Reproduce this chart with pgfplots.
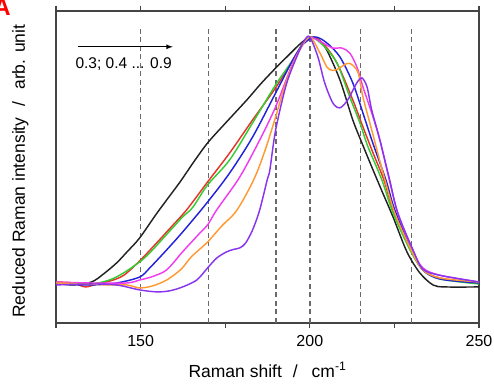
\documentclass[border=0pt]{standalone}
\usepackage{pgfplots}
\pgfplotsset{compat=1.18}
\usepackage{fontspec}
\setmainfont{Liberation Sans}
\definecolor{cblack}{HTML}{222222}
\definecolor{cred}{HTML}{E8332A}
\definecolor{cgreen}{HTML}{33CC33}
\definecolor{cblue}{HTML}{2222DD}
\definecolor{cmag}{HTML}{F03CF0}
\definecolor{corange}{HTML}{FF9933}
\definecolor{cpurple}{HTML}{8833EE}
\definecolor{axgray}{HTML}{444444}
\definecolor{dashgray}{HTML}{6A6A6A}
\begin{document}
\begin{tikzpicture}[x=1pt,y=1pt]
\useasboundingbox (0,0) rectangle (494,387);
\node[anchor=base east,inner sep=0,text=red,font=\fontsize{24}{24}\selectfont\bfseries] at (11,371) {A};
\begin{axis}[
  at={(56pt,64pt)}, anchor=south west,
  width=423pt, height=312pt, scale only axis,
  xmin=125, xmax=250, ymin=-0.158, ymax=1.105,
  xtick={150,200,250}, minor xtick={125,175,225},
  ytick=\empty,
  tick align=outside,
  major tick length=5pt, minor tick length=5pt,
  every tick/.style={axgray, line width=1.3pt},
  axis line style={axgray, line width=1.5pt},
  /pgf/number format/assume math mode=true,
  tick label style={font=\fontsize{16}{18}\selectfont},
  xticklabel style={yshift=-4pt},
  xlabel={Raman shift\hspace{11pt}/\hspace{14pt}cm\textsuperscript{-1}},
  ylabel={Reduced Raman intensity\hspace{11pt}/\hspace{12pt}arb. unit},
  label style={font=\fontsize{17.5}{20}\selectfont, inner sep=0pt},
  xlabel style={at={(axis description cs:0.5,-0.1731)}, anchor=base},
  ylabel style={at={(axis description cs:-0.0733,0.016)}, anchor=base west},
  every axis plot/.append style={line width=1.45pt, smooth, tension=0.5, no markers},
]
\foreach \xv in {150,170,190,200,215,230}{
  \edef\tmp{\noexpand\draw[dashgray, line width=1.5pt, dash pattern=on 5pt off 3.5pt] (axis cs:\xv,-0.158) -- (axis cs:\xv,1.045);}
  \tmp
}
% 0.3 black
\addplot[cblack] coordinates {(125,0.004) (130,-0.004) (135.5,0.008) (139,0.04) (142.9,0.085) (146,0.13) (149.7,0.186) (155,0.29) (161.5,0.41) (165.5,0.49) (169.8,0.571) (175,0.65) (181.4,0.745) (185.5,0.81) (189.9,0.874) (193.2,0.919) (197,0.97) (200,1.0) (202.5,0.99) (205,0.947) (208.9,0.826) (212.7,0.664) (215.4,0.571) (218.3,0.474) (221.5,0.37) (224.6,0.271) (228.7,0.130) (232.5,0.045) (236.4,-0.004) (240,-0.012) (250,-0.012)};
% 0.4 red
\addplot[cred] coordinates {(125,0.008) (130,0.004) (133.7,-0.012) (137,0.0) (141,0.012) (145,0.035) (149.7,0.093) (155,0.17) (159,0.23) (163.6,0.30) (169.8,0.413) (176.3,0.530) (183.1,0.664) (189.9,0.794) (195,0.907) (198,0.975) (200.3,1.0) (203.8,0.975) (208,0.895) (212.7,0.745) (215.7,0.636) (218.7,0.53) (221.9,0.421) (224.9,0.287) (229.9,0.138) (233.4,0.057) (238.5,0.024) (250,0.004)};
% 0.5 green
\addplot[cgreen] coordinates {(125,0.004) (135,0.0) (140.8,0.016) (145,0.045) (149.7,0.089) (152.7,0.126) (157,0.19) (162.4,0.271) (165.4,0.310) (169.8,0.401) (176.3,0.502) (183.1,0.652) (189.9,0.806) (195,0.907) (198,0.975) (200.3,1.0) (203.8,0.968) (208,0.895) (211.8,0.757) (214.8,0.652) (217.2,0.555) (221.3,0.421) (224.6,0.287) (229.6,0.138) (233.4,0.057) (238.5,0.02) (250,0.0)};
% 0.6 blue
\addplot[cblue] coordinates {(125,0.0) (135,-0.004) (142.9,0.004) (149.7,0.028) (152.7,0.065) (157.7,0.138) (162.4,0.21) (169.4,0.325) (176.3,0.449) (183.1,0.595) (189.9,0.773) (195,0.907) (198,0.97) (201.5,1.0) (205,0.976) (208.9,0.919) (212.7,0.814) (215.7,0.692) (218.6,0.571) (222.5,0.421) (225.1,0.30) (229.9,0.146) (233.4,0.057) (238.5,0.02) (250,0.004)};
% 0.7 magenta
\addplot[cmag] coordinates {(125,0.008) (135,0.004) (145.9,0.004) (149.7,0.016) (153.5,0.03) (157.7,0.057) (162.4,0.130) (167.5,0.206) (169.8,0.239) (172.5,0.300) (179.3,0.433) (185.2,0.583) (189.9,0.717) (195,0.895) (198,0.97) (200,1.0) (203.8,0.976) (206.8,0.955) (209.5,0.955) (211.8,0.935) (213.9,0.879) (215.7,0.798) (218.3,0.692) (220.7,0.583) (223.5,0.421) (226,0.287) (230.3,0.138) (233.4,0.065) (238.5,0.035) (250,0.008)};
% 0.8 orange
\addplot[corange] coordinates {(125,0.004) (135,0.0) (140,-0.004) (145.9,-0.004) (149.7,-0.016) (153.5,-0.008) (157.7,0.016) (162,0.06) (165,0.11) (169.8,0.170) (174,0.235) (178,0.29) (181.5,0.37) (184.3,0.449) (187,0.55) (189.9,0.676) (193.2,0.826) (197,0.947) (200,1.0) (203,0.935) (205,0.879) (206.5,0.865) (208,0.868) (210,0.885) (211.8,0.893) (214.2,0.858) (215.7,0.757) (218.3,0.623) (222.2,0.421) (225.1,0.287) (229.9,0.138) (233.4,0.057) (238.5,0.024) (250,0.008)};
% 0.9 purple
\addplot[cpurple] coordinates {(125,-0.004) (135,0.0) (142.9,-0.004) (149.7,-0.024) (154.7,-0.032) (158.5,-0.028) (162.4,-0.012) (166.6,0.016) (169.8,0.065) (172.5,0.105) (175.4,0.130) (177.5,0.14) (179.3,0.146) (181,0.165) (183.1,0.219) (185.2,0.30) (187.4,0.421) (188.2,0.462) (189.9,0.623) (193.2,0.814) (197,0.947) (198.5,0.988) (200,1.0) (202.4,0.919) (204.4,0.814) (206.8,0.733) (208.9,0.713) (211.2,0.745) (213.9,0.814) (215.4,0.834) (216.9,0.798) (218.3,0.704) (220.7,0.583) (223.6,0.421) (226,0.287) (230.5,0.138) (233.4,0.060) (238.5,0.035) (250,0.008)};
\draw[-latex, black, line width=1.2pt] (axis cs:131.4,0.960) -- (axis cs:159.5,0.960);
\node[font=\fontsize{15.5}{18}\selectfont, inner sep=0] at (axis cs:145.0,0.890) {0.3; 0.4 ... 0.9};
\end{axis}
\end{tikzpicture}
\end{document}
